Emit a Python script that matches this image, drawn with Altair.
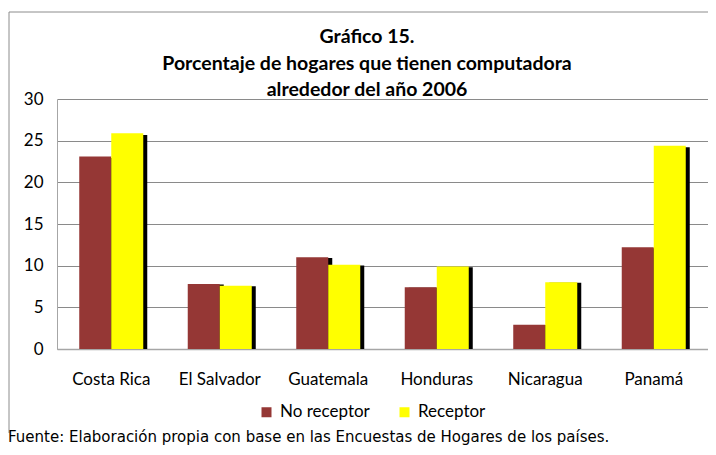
import altair as alt
import pandas as pd

paises = ["Costa Rica", "El Salvador", "Guatemala", "Honduras", "Nicaragua", "Panamá"]
no_receptor = [23.1, 7.8, 11.0, 7.4, 2.9, 12.2]
receptor = [25.9, 7.6, 10.1, 9.9, 8.0, 24.4]
series = ["No receptor", "Receptor"]
y_ticks = [0, 5, 10, 15, 20, 25, 30]
title_lines = ["Gráfico 15.", "Porcentaje de hogares que tienen computadora", "alrededor del año 2006"]
fuente = "Fuente: Elaboración propia con base en las Encuestas de Hogares de los países."

rows = []
for p, a, b in zip(paises, no_receptor, receptor):
    rows.append({"pais": p, "serie": series[0], "valor": a})
    rows.append({"pais": p, "serie": series[1], "valor": b})
df = pd.DataFrame(rows)

W, H = 651, 250
PAD_IN, PAD_OUT = 0.41, 0.205
BW = W / (len(paises) - PAD_IN + 2 * PAD_OUT) * (1 - PAD_IN)
FONT = "Lato"

x = alt.X("pais:N", sort=paises,
          scale=alt.Scale(paddingInner=PAD_IN, paddingOuter=PAD_OUT),
          axis=alt.Axis(title=None, labelAngle=0, labelFont=FONT, labelFontSize=17,
                        labelColor="#000000", labelPadding=22, ticks=False,
                        domainColor="#a6a6a6", domainWidth=1.5))
y = alt.Y("valor:Q", scale=alt.Scale(domain=[0, 30], nice=False),
          axis=alt.Axis(title=None, values=y_ticks, grid=True, gridColor="#8a8a8a",
                        gridWidth=1, ticks=False, domainColor="#a6a6a6",
                        labelFont=FONT, labelFontSize=17, labelPadding=14,
                        labelColor="#000000"))

base = alt.Chart(df)
# drop shadow: same bars, shifted right and slightly down via their own scales
shadow = base.mark_bar(color="black").encode(
    x=x,
    xOffset=alt.XOffset("serie:N", sort=series,
                        scale=alt.Scale(domain=series, range=[4, BW + 4],
                                        paddingInner=0, paddingOuter=0)),
    y=alt.Y("valor:Q", scale=alt.Scale(domain=[0, 30], nice=False, range=[H, 2]), axis=None))
bars = base.mark_bar().encode(
    x=x,
    xOffset=alt.XOffset("serie:N", sort=series,
                        scale=alt.Scale(domain=series, range=[0, BW],
                                        paddingInner=0, paddingOuter=0)),
    y=y,
    color=alt.Color("serie:N", sort=series,
                    scale=alt.Scale(domain=series, range=["#953735", "#FFFF00"]),
                    legend=alt.Legend(title=None, orient="none", legendX=201, legendY=304.5,
                                      direction="horizontal", symbolType="square",
                                      symbolSize=100, symbolStrokeWidth=0,
                                      labelFont=FONT, labelFontSize=17, labelColor="#000000",
                                      columnPadding=26, labelOffset=5, padding=0)))

one = alt.Data(values=[{}])
border_left = alt.Chart(one).mark_rule(color="#8c8c8c", strokeWidth=1).encode(
    x=alt.value(-48), y=alt.value(-87), y2=alt.value(334))
border_top = alt.Chart(one).mark_rule(color="#8c8c8c", strokeWidth=1).encode(
    x=alt.value(-48), x2=alt.value(W + 20), y=alt.value(-87))
title = alt.Chart(one).mark_text(font=FONT, fontSize=19.5, fontWeight="bold", lineHeight=26.5,
                                 align="center", baseline="alphabetic", color="#000000").encode(
    x=alt.value(310), y=alt.value(-56), text=alt.value(title_lines))
foot = alt.Chart(one).mark_text(font="DejaVu Sans", fontSize=15, align="left",
                                baseline="alphabetic", color="#000000").encode(
    x=alt.value(-49), y=alt.value(343), text=alt.value(fuente))

chart = alt.layer(shadow, bars, border_left, border_top, title, foot).resolve_scale(
    y="independent", xOffset="independent"
).properties(
    width=W, height=H, autosize="none",
    padding={"left": 49, "top": 91, "right": 0, "bottom": 98},
).configure_view(stroke=None)

chart.save("out.html", embed_options={"renderer": "svg", "actions": False})
